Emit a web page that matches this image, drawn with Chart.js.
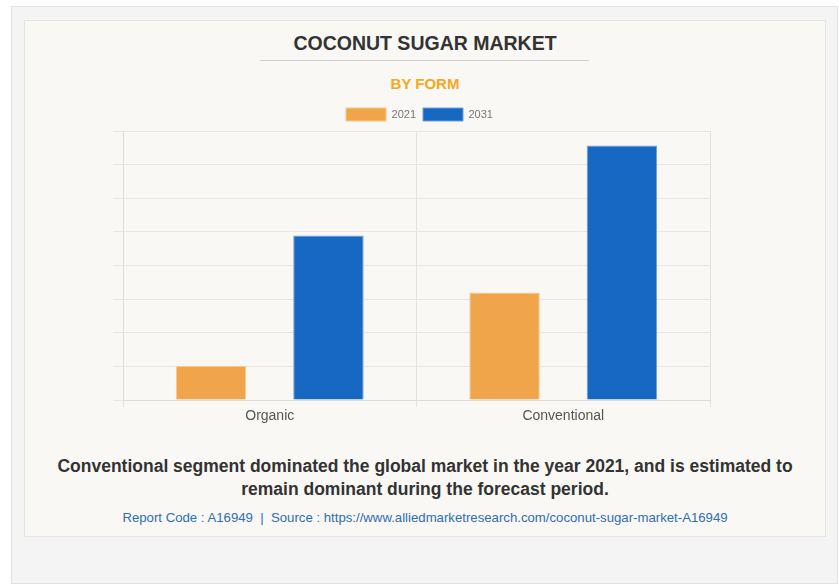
<!DOCTYPE html>
<html>
<head>
<meta charset="utf-8">
<script src="https://cdn.jsdelivr.net/npm/chart.js@4"></script>
<style>
  html, body { margin: 0; padding: 0; background: #ffffff; width: 839px; height: 584px; overflow: hidden; }
  body { position: relative; font-family: "Liberation Sans", Arial, sans-serif; }
  #panel { position: absolute; left: 11px; top: 6px; width: 827px; height: 578px; background: #f4f4f4; border: 1px solid #e2e2e2; box-sizing: border-box; }
  #card { position: absolute; left: 24px; top: 20px; width: 802px; height: 517px; background: #f9f8f4; border: 1px solid #e4e4e4; box-sizing: border-box; }
  .t { position: absolute; left: 24px; width: 802px; text-align: center; white-space: nowrap; }
  #title { top: 32px; font-size: 19.5px; font-weight: bold; color: #333333; }
  #rule { position: absolute; left: 260px; top: 60px; width: 329px; height: 1px; background: #d0d0d0; }
  #sub { top: 75px; font-size: 15px; font-weight: bold; color: #f7a823; }
  #chartbox { position: absolute; left: 0; top: 101px; width: 839px; height: 324px; }
  #note { top: 455px; font-size: 17.5px; font-weight: bold; color: #333333; line-height: 23px; }
  #src { top: 510px; font-size: 13.2px; color: #2f6db5; }
</style>
</head>
<body>
<div id="panel"></div>
<div id="card"></div>
<div class="t" id="title">COCONUT SUGAR MARKET</div>
<div id="rule"></div>
<div class="t" id="sub">BY FORM</div>
<div id="chartbox"><canvas id="myChart"></canvas></div>
<div class="t" id="note">Conventional segment dominated the global market in the year 2021, and is estimated to<br>remain dominant during the forecast period.</div>
<div class="t" id="src">Report Code : A16949&nbsp; |&nbsp; Source : https://www.alliedmarketresearch.com/coconut-sugar-market-A16949</div>
<script>
// categorias y valores
var categorias = ['Organic', 'Conventional'];
var series = ['2021', '2031'];
var valores2021 = [1.01, 3.2];
var valores2031 = [4.89, 7.57];

var ctx = document.getElementById('myChart').getContext('2d');

var data = {
    labels: categorias,
    datasets: [{
        label: series[0],
        data: valores2021,
        backgroundColor: '#f1a54a',
        borderColor: '#f6c98f',
        borderWidth: 1
    }, {
        label: series[1],
        data: valores2031,
        backgroundColor: '#1668c3',
        borderColor: '#6a9fdc',
        borderWidth: 1
    }]
};

// mueve la leyenda un poco a la derecha, como en el original
var moverLeyenda = {
    id: 'moverLeyenda',
    afterLayout: function (chart) {
        chart.legend.left += 8;
        chart.legend.right += 8;
    }
};

var options = {
    responsive: true,
    maintainAspectRatio: false,
    animation: false,
    layout: { padding: { left: 113, right: 129, top: 0, bottom: 0 } },
    datasets: { bar: { categoryPercentage: 0.8, barPercentage: 0.6 } },
    plugins: {
        legend: {
            position: 'top',
            labels: {
                boxWidth: 40,
                boxHeight: 13,
                padding: 7,
                color: '#777777',
                font: { family: 'Liberation Sans', size: 11 }
            }
        },
        tooltip: { enabled: false }
    },
    scales: {
        x: {
            grid: { color: '#e3e3e3', tickLength: 7 },
            border: { color: '#dcdcdc' },
            ticks: { color: '#555555', padding: 2, font: { family: 'Liberation Sans', size: 14, lineHeight: 1 } }
        },
        y: {
            min: 0,
            max: 8,
            grid: { color: '#e6e6e6', tickLength: 10 },
            border: { color: '#dcdcdc' },
            ticks: { display: false, stepSize: 1 }
        }
    }
};

//Crea el grafico
var myChart = new Chart(ctx, { type: 'bar', data: data, options: options, plugins: [moverLeyenda] });
</script>
</body>
</html>
